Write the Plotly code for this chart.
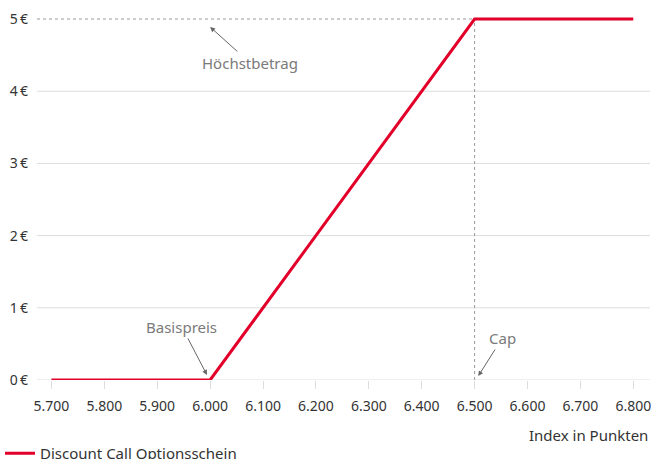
import plotly.graph_objects as go

index_points = [5700, 6000, 6500, 6800]
payout = [0, 0, 5, 5]
x_ticks = [5700, 5800, 5900, 6000, 6100, 6200, 6300, 6400, 6500, 6600, 6700, 6800]
x_tick_labels = ["5.700", "5.800", "5.900", "6.000", "6.100", "6.200", "6.300",
                 "6.400", "6.500", "6.600", "6.700", "6.800"]
y_ticks = [0, 1, 2, 3, 4, 5]
y_tick_labels = ["0\u2009€", "1\u2009€", "2\u2009€", "3\u2009€", "4\u2009€", "5\u2009€"]
strike = 6000
cap = 6500
max_amount = 5
x_range = [5672.7, 6831.6]

FONT = "Noto Sans"
RED = "#e2002a"
GREY = "#7a7a7a"

fig = go.Figure()
fig.add_trace(go.Scatter(x=index_points, y=payout, mode="lines",
                         line=dict(color=RED, width=3),
                         name="Discount Call Optionsschein", cliponaxis=False,
                         hoverinfo="skip"))

# grid lines 0..4
for v in y_ticks[:-1]:
    fig.add_shape(type="line", xref="paper", x0=0, x1=1, yref="y", y0=v, y1=v,
                  line=dict(color="#dddddd", width=1), layer="below")
# dotted reference lines
fig.add_shape(type="line", xref="paper", x0=0,
              x1=(cap - x_range[0]) / (x_range[1] - x_range[0]),
              yref="y", y0=max_amount, y1=max_amount,
              line=dict(color="#999999", width=1, dash="dot"), layer="below")
fig.add_shape(type="line", x0=cap, x1=cap, y0=0, y1=max_amount,
              line=dict(color="#999999", width=1, dash="dot"), layer="below")

ann_font = dict(family=FONT, size=15, color=GREY)
fig.add_annotation(x=strike, y=4.89, ax=40, ay=36, text="Höchstbetrag",
                   showarrow=True, arrowhead=2, arrowsize=1, arrowwidth=1,
                   arrowcolor="#666666", font=ann_font)
fig.add_annotation(x=5994, y=0.07, ax=-25, ay=-48, text="Basispreis",
                   showarrow=True, arrowhead=2, arrowsize=1, arrowwidth=1,
                   arrowcolor="#666666", font=ann_font)
fig.add_annotation(x=6507, y=0.055, ax=24, ay=-38, text="Cap",
                   showarrow=True, arrowhead=2, arrowsize=1, arrowwidth=1,
                   arrowcolor="#666666", font=ann_font)
fig.add_annotation(xref="paper", yref="paper", x=1, y=-0.1486, xanchor="right",
                   yanchor="middle", text="Index in Punkten", showarrow=False,
                   font=dict(family=FONT, size=15, color="#333333"))

fig.update_layout(
    width=651, height=459,
    margin=dict(l=37, r=1, t=10, b=79),
    paper_bgcolor="white", plot_bgcolor="white",
    font=dict(family=FONT, size=14, color="#333333"),
    showlegend=True,
    hovermode=False,
    legend=dict(orientation="h", xref="container", yref="container",
                x=-0.003, y=0.012, xanchor="left", yanchor="middle",
                font=dict(family=FONT, size=15, color="#333333"),
                itemwidth=30),
    xaxis=dict(range=x_range, tickvals=x_ticks, ticktext=x_tick_labels,
               showgrid=False, zeroline=False, showline=False,
               ticks="outside", ticklen=8, tickcolor="#dddddd",
               ticklabeloverflow="allow", ticklabelstandoff=5,
               tickfont=dict(family=FONT, size=14, color="#333333")),
    yaxis=dict(range=[0, 5.125], tickvals=y_ticks, ticktext=y_tick_labels,
               showgrid=False, zeroline=False, showline=False,
               ticks="", ticklabelstandoff=8,
               tickfont=dict(family=FONT, size=14, color="#333333")),
)
fig.write_html("out.html", config={"displayModeBar": False},
               post_script="document.body.style.margin='0';document.body.style.overflow='hidden';")
